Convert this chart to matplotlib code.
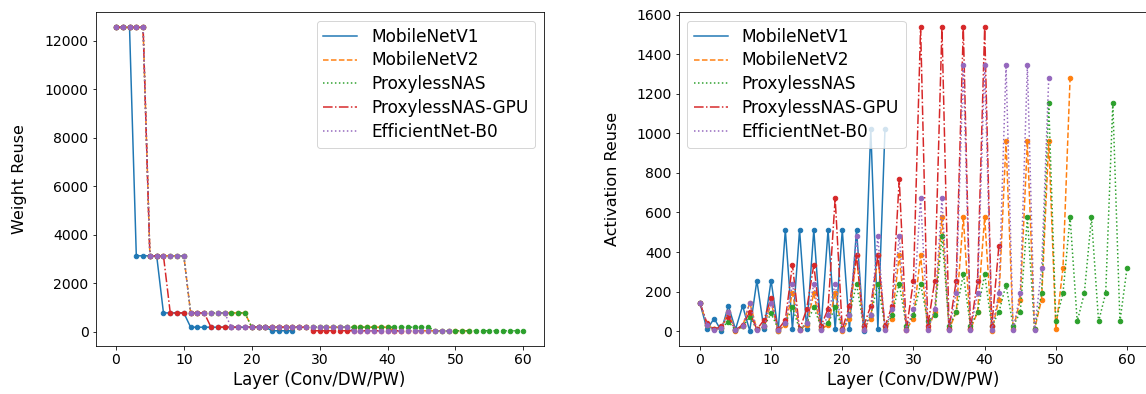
import matplotlib
matplotlib.use("Agg")
import matplotlib.pyplot as plt

plt.rcParams['font.size'] = 14

names = ['MobileNetV1', 'MobileNetV2', 'ProxylessNAS', 'ProxylessNAS-GPU', 'EfficientNet-B0']
styles = ['-', '--', ':', '-.', ':']
colors = ['tab:blue', 'tab:orange', 'tab:green', 'tab:red', 'tab:purple']

# weight reuse per layer (output feature map size)
w_v1 = [12544] * 3 + [3136] * 4 + [784] * 4 + [196] * 12 + [49] * 4
w_v2 = [12544] * 5 + [3136] * 6 + [784] * 9 + [196] * 21 + [49] * 12
w_pnas = [12544] * 5 + [3136] * 6 + [784] * 9 + [196] * 27 + [49] * 14
w_gpu = [12544] * 5 + [3136] * 3 + [784] * 6 + [196] * 15 + [49] * 14
w_eff = [12544] * 5 + [3136] * 6 + [784] * 6 + [196] * 18 + [49] * 15

# activation reuse per layer
a_v1 = [144, 9, 64, 2, 128, 9, 128, 2, 256, 9, 256, 2, 512, 9, 512, 9, 512,
        9, 512, 9, 512, 9, 512, 2, 1024, 9, 1024]
a_v2 = [144, 32, 9, 16, 96, 2, 24, 144, 9, 24, 144, 2, 32, 192, 9, 32, 192,
        9, 32, 192, 2, 64, 384, 9, 64, 384, 9, 64, 384, 9, 64, 384, 9, 96,
        576, 9, 96, 576, 9, 96, 576, 2, 160, 960, 9, 160, 960, 9, 160, 960,
        9, 320, 1280]
a_pnas = [144, 32, 9, 16, 48, 6, 24, 72, 9, 24, 90, 12, 40, 120, 9, 40, 120,
          25, 40, 120, 12, 80, 240, 25, 80, 240, 25, 80, 240, 25, 80, 240,
          49, 80, 480, 25, 96, 288, 25, 96, 288, 25, 96, 235, 25, 96, 576,
          12, 192, 1152, 49, 192, 576, 49, 192, 576, 49, 192, 1152, 49, 320]
a_gpu = [144, 40, 9, 24, 72, 6, 32, 96, 9, 56, 168, 9, 56, 336, 6, 112, 336,
         25, 112, 672, 9, 128, 384, 25, 128, 384, 25, 128, 768, 6, 256, 1536,
         25, 256, 1536, 9, 256, 1536, 9, 256, 1536, 25, 432]
a_eff = [144, 32, 4, 16, 96, 4, 24, 144, 4, 24, 144, 4, 40, 240, 4, 40, 240,
         4, 80, 240, 4, 80, 480, 4, 80, 480, 4, 112, 480, 4, 112, 672, 4, 112,
         672, 4, 192, 1344, 4, 192, 1344, 4, 192, 1344, 4, 192, 1344, 4, 320,
         1280]

weights = [w_v1, w_v2, w_pnas, w_gpu, w_eff]
acts = [a_v1, a_v2, a_pnas, a_gpu, a_eff]

fig = plt.figure(figsize=(1146 / 72, 394 / 72), dpi=72)
ax1 = fig.add_axes([0.0834, 0.122, 0.391, 0.847])
ax2 = fig.add_axes([0.5921, 0.122, 0.410, 0.847])

for ax, data, ylabel in [(ax1, weights, 'Weight Reuse'), (ax2, acts, 'Activation Reuse')]:
    for vals, name, ls, c in zip(data, names, styles, colors):
        layers = list(range(len(vals)))
        ax.plot(layers, vals, linestyle=ls, color=c, label=name)
        ax.plot(layers, vals, 'o', color=c, markersize=4.5)
    ax.set_xlabel('Layer (Conv/DW/PW)', fontsize=16.5)
    ax.set_ylabel(ylabel, fontsize=16)
    ax.set_xticks([0, 10, 20, 30, 40, 50, 60])

ax1.yaxis.set_label_coords(-0.153, 0.5)
ax2.yaxis.set_label_coords(-0.125, 0.5)

ax1.legend(loc='upper right', fontsize=17, labelspacing=0.35)
ax2.legend(loc='upper left', fontsize=17, labelspacing=0.35)

fig.savefig('out.png', dpi=72)
